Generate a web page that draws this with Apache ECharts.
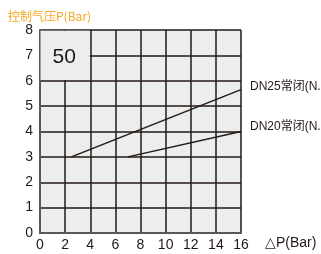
<!DOCTYPE html>
<html>
<head>
<meta charset="utf-8">
<script src="https://cdn.jsdelivr.net/npm/echarts@6/dist/echarts.min.js"></script>
<style>
  html, body { margin: 0; padding: 0; background: #fff; }
  #chart { width: 321px; height: 254px; }
</style>
</head>
<body>
<div id="chart"></div>
<script>
// data
var xTicks = [0, 2, 4, 6, 8, 10, 12, 14, 16];
var yTicks = [0, 1, 2, 3, 4, 5, 6, 7, 8];
var dn25 = [[2.5, 3], [16, 5.65]];
var dn20 = [[7, 3], [16, 4]];
var seriesNames = ["DN25常闭(N.C)", "DN20常闭(N.C)"];
var boxLabel = "50";

var ink = "#231815";
var bg = "#eceeed";
var font = "Liberation Sans, Arial, sans-serif";

var chart = echarts.init(document.getElementById("chart"));

var lineSeries = function (name, data, off) {
    return {
        name: name,
        type: "line",
        data: data,
        symbol: "none",
        silent: true,
        lineStyle: { color: ink, width: 1.5 },
        endLabel: {
            show: true,
            formatter: name,
            distance: 9,
            offset: off,
            color: ink,
            fontSize: 12,
            fontFamily: "Liberation Sans, Noto Sans CJK SC, sans-serif"
        }
    };
};

var option = {
    animation: false,
    grid: {
        left: 40, right: 80, top: 30, bottom: 21,
        show: true,
        backgroundColor: bg,
        borderWidth: 0
    },
    xAxis: {
        type: "value",
        min: xTicks[0], max: xTicks[xTicks.length - 1], interval: 2,
        name: "△P(Bar)",
        nameLocation: "end",
        nameGap: 24,
        nameTextStyle: { color: ink, fontSize: 14, fontFamily: font, verticalAlign: "top", padding: [3, 0, 0, 0] },
        axisLine: { lineStyle: { color: "#595757", width: 2 } },
        axisTick: { show: false },
        axisLabel: { color: ink, fontSize: 14, fontFamily: font, margin: 5 },
        splitLine: { show: true, lineStyle: { color: ink, width: 1.5 } }
    },
    yAxis: {
        type: "value",
        min: yTicks[0], max: yTicks[yTicks.length - 1], interval: 1,
        name: "控制气压P(Bar)",
        nameLocation: "end",
        nameGap: 8,
        nameTextStyle: { color: "#f5a623", fontSize: 12, fontFamily: "Noto Sans CJK SC, sans-serif", align: "left", padding: [0, 0, 0, -32] },
        axisLine: { show: true, lineStyle: { color: "#595757", width: 2 } },
        axisTick: { show: false },
        axisLabel: { color: ink, fontSize: 14, fontFamily: font, margin: 7 },
        splitLine: { show: true, lineStyle: { color: ink, width: 1.5 } }
    },
    series: [
        lineSeries(seriesNames[0], dn25, [0, -3]),
        lineSeries(seriesNames[1], dn20, [0, -5]),
        {
            type: "line",
            data: [],
            silent: true,
            markArea: {
                silent: true,
                itemStyle: { color: bg, opacity: 1 },
                label: {
                    show: true,
                    position: "inside",
                    formatter: boxLabel,
                    color: ink,
                    fontSize: 21,
                    fontFamily: font,
                    offset: [-1, 2]
                },
                data: [[{ coord: [0.04, 6.03] }, { coord: [3.96, 7.97] }]]
            }
        }
    ]
};
chart.setOption(option);
</script>
</body>
</html>
